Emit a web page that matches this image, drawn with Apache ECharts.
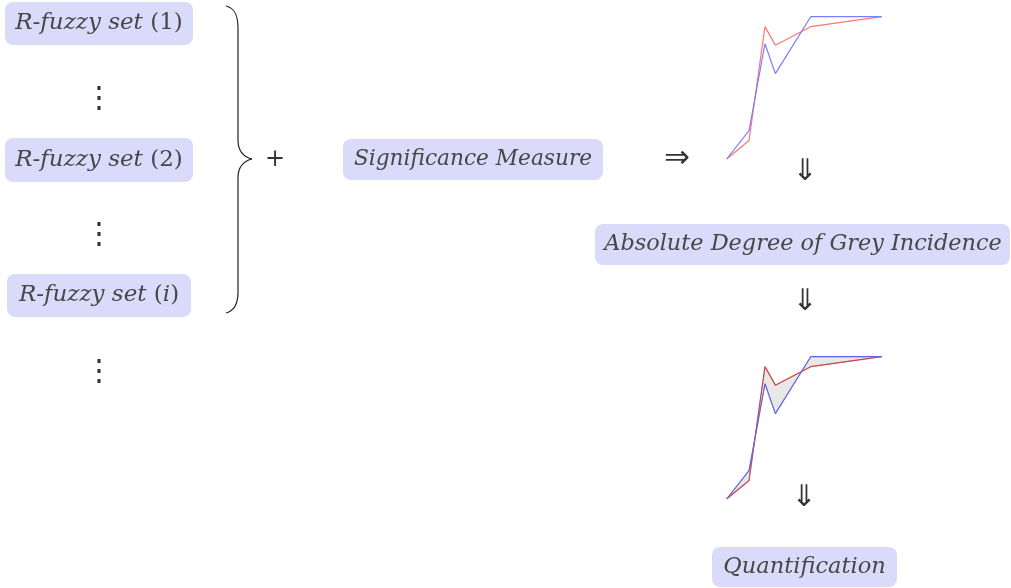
<!DOCTYPE html>
<html>
<head>
<meta charset="utf-8">
<script src="https://cdn.jsdelivr.net/npm/echarts@6/dist/echarts.min.js"></script>
<style>
html,body{margin:0;padding:0;background:#fff;}
#c{width:1011px;height:588px;}
</style>
</head>
<body>
<div id="c"></div>
<script>
// Data: two normalised curves (x position, blue curve value, red curve value)
const xs = [0, 0.144, 0.247, 0.314, 0.542, 1.0];
const blueVals = [0, 0.20, 0.81, 0.60, 1.0, 1.0];
const redVals = [0, 0.13, 0.93, 0.80, 0.93, 1.0];
// Diagram labels
const setLabels = ['1', '2', 'i'];
const measureLabel = 'Significance Measure';
const incidenceLabel = 'Absolute Degree of Grey Incidence';
const resultLabel = 'Quantification';

const chart = echarts.init(document.getElementById('c'), null, {renderer: 'canvas'});

const FONT = '"DejaVu Serif", serif';
const TXT = '#474747';
const BOX = '#dadafb';
const FS = 22;

function box(x1, y1, x2, y2) {
  return {type: 'rect', shape: {x: x1, y: y1, width: x2 - x1, height: y2 - y1, r: 8},
    style: {fill: BOX}, z: 1};
}
function label(cx, cy, text, fs) {
  return {type: 'text', x: cx, y: cy, z: 2,
    style: {text: text, x: 0, y: 0, align: 'center', verticalAlign: 'middle',
      fill: TXT, font: 'italic ' + (fs || FS) + 'px ' + FONT}};
}
function sym(cx, cy, ch, size, font) {
  return {type: 'text', x: cx, y: cy, z: 2,
    style: {text: ch, x: 0, y: 0, align: 'center', verticalAlign: 'middle', fill: '#333',
      font: size + 'px ' + (font || '"DejaVu Sans"')}};
}
const SFS = 23;
const richSet = {
  it: {fontStyle: 'italic', fontFamily: FONT, fontSize: SFS, fill: TXT, color: TXT},
  up: {fontStyle: 'normal', fontFamily: FONT, fontSize: SFS, fill: TXT, color: TXT}
};
function setText(id) {
  if (/^\d+$/.test(id)) return '{it|R-fuzzy set }{up|(' + id + ')}';
  return '{it|R-fuzzy set }{up|(}{it|' + id + '}{up|)}';
}

const graphics = [];
const setBoxes = [[5, 2, 193, 45, 99, 23.5], [5, 138, 193, 182, 99, 160], [7, 274, 191, 317, 99, 295.5]];
setBoxes.forEach((b, i) => {
  graphics.push(box(b[0], b[1], b[2], b[3]));
  graphics.push({type: 'text', x: b[4], y: b[5], z: 2,
    style: {text: setText(setLabels[i]), rich: richSet, fill: TXT, x: 0, y: 0, align: 'center', verticalAlign: 'middle'}});
});
// vertical ellipses
[99, 235, 372].forEach(cy => graphics.push(sym(99, cy, '⋮', 30, '"DejaVu Serif"')));
// brace
const braceStyle = {fill: null, stroke: '#222', lineWidth: 1.2};
graphics.push({type: 'bezierCurve', z: 2, shape: {x1: 226, y1: 6, cpx1: 234, cpy1: 8, cpx2: 238, cpy2: 14, x2: 238, y2: 28}, style: braceStyle});
graphics.push({type: 'line', z: 2, shape: {x1: 238, y1: 28, x2: 238, y2: 140}, style: braceStyle});
graphics.push({type: 'bezierCurve', z: 2, shape: {x1: 238, y1: 140, cpx1: 238, cpy1: 152, cpx2: 244, cpy2: 157, x2: 252, y2: 159}, style: braceStyle});
graphics.push({type: 'bezierCurve', z: 2, shape: {x1: 252, y1: 159, cpx1: 244, cpy1: 161, cpx2: 238, cpy2: 166, x2: 238, y2: 178}, style: braceStyle});
graphics.push({type: 'line', z: 2, shape: {x1: 238, y1: 178, x2: 238, y2: 292}, style: braceStyle});
graphics.push({type: 'bezierCurve', z: 2, shape: {x1: 238, y1: 292, cpx1: 238, cpy1: 305, cpx2: 234, cpy2: 311, x2: 226, y2: 313}, style: braceStyle});
graphics.push(sym(275, 160, '+', 24, '"DejaVu Serif"'));
graphics.push(box(343, 139, 603, 180));
graphics.push(label(473, 159.5, measureLabel, 21.7));
graphics.push(sym(677, 159, '⇒', 31));
graphics.push(sym(805, 172, '⇓', 30));
graphics.push(box(595, 224, 1010, 265));
graphics.push(label(803, 244.5, incidenceLabel, 22.4));
graphics.push(sym(805, 302, '⇓', 30));
graphics.push(sym(804, 498, '⇓', 30));
graphics.push(box(712, 547, 897, 587));
graphics.push(label(804.5, 567, resultLabel, 22.5));

const pairs = arr => xs.map((x, i) => [x, arr[i]]);

const option = {
  animation: false,
  grid: [
    {left: 726.7, top: 16.7, width: 155, height: 142.3},
    {left: 726.7, top: 356.7, width: 155, height: 142.3}
  ],
  xAxis: [0, 1].map(i => ({type: 'value', gridIndex: i, min: 0, max: 1, show: false})),
  yAxis: [0, 1].map(i => ({type: 'value', gridIndex: i, min: 0, max: 1, show: false})),
  series: [
    {type: 'line', xAxisIndex: 0, yAxisIndex: 0, data: pairs(redVals), symbol: 'none',
      lineStyle: {color: '#ff7474', width: 1.2}, z: 3},
    {type: 'line', xAxisIndex: 0, yAxisIndex: 0, data: pairs(blueVals), symbol: 'none',
      lineStyle: {color: '#7c7cff', width: 1.2}, z: 3},
    {type: 'custom', xAxisIndex: 1, yAxisIndex: 1, z: 2,
      data: xs.map((x, i) => [x, blueVals[i], redVals[i]]),
      renderItem: function (params, api) {
        if (params.dataIndex !== 0) return null;
        const pts = [];
        for (let i = 0; i < xs.length; i++) pts.push(api.coord([xs[i], blueVals[i]]));
        for (let i = xs.length - 1; i >= 0; i--) pts.push(api.coord([xs[i], redVals[i]]));
        return {type: 'polygon', shape: {points: pts},
          style: {fill: '#e8e8e8', stroke: '#aaaaaa', lineWidth: 0.8}};
      }},
    {type: 'line', xAxisIndex: 1, yAxisIndex: 1, data: pairs(redVals), symbol: 'none',
      lineStyle: {color: '#cc4a4a', width: 1.2}, z: 3},
    {type: 'line', xAxisIndex: 1, yAxisIndex: 1, data: pairs(blueVals), symbol: 'none',
      lineStyle: {color: '#6464e6', width: 1.2}, z: 3}
  ],
  graphic: {elements: graphics}
};
chart.setOption(option);
</script>
</body>
</html>
